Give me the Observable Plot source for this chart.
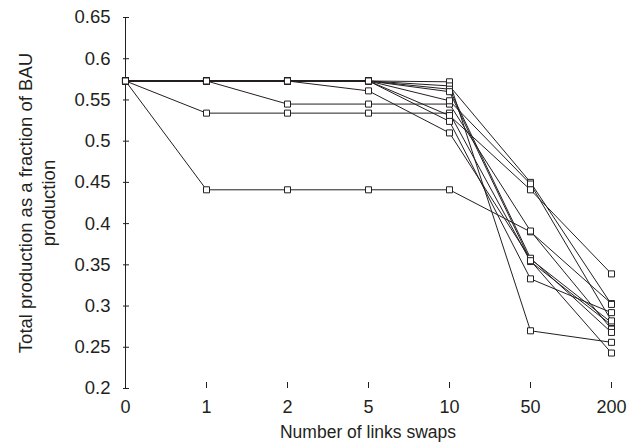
<!DOCTYPE html>
<html>
<head>
<meta charset="utf-8">
<script src="https://cdn.jsdelivr.net/npm/d3@7"></script>
<script src="https://cdn.jsdelivr.net/npm/@observablehq/plot@0.6"></script>
<style>
  html, body { margin: 0; padding: 0; background: #fff; }
  #chart svg { display: block; }
</style>
</head>
<body>
<div id="chart"></div>
<script>
// Categories (number of link swaps)
const swaps = ["0", "1", "2", "5", "10", "50", "200"];
// Y tick values
const yTicks = [0.2, 0.25, 0.3, 0.35, 0.4, 0.45, 0.5, 0.55, 0.6, 0.65];

// Series values (total production as a fraction of BAU production)
const run1  = [0.573, 0.441, 0.441, 0.441, 0.441, 0.390, 0.303];
const run2  = [0.573, 0.534, 0.534, 0.534, 0.534, 0.354, 0.277];
const run3  = [0.573, 0.573, 0.545, 0.545, 0.545, 0.391, 0.272];
const run4  = [0.573, 0.573, 0.573, 0.561, 0.510, 0.357, 0.280];
const run5  = [0.573, 0.573, 0.573, 0.573, 0.572, 0.270, 0.256];
const run6  = [0.573, 0.573, 0.573, 0.573, 0.567, 0.450, 0.302];
const run7  = [0.573, 0.573, 0.573, 0.573, 0.563, 0.358, 0.268];
const run8  = [0.573, 0.573, 0.573, 0.573, 0.560, 0.355, 0.243];
const run9  = [0.573, 0.573, 0.573, 0.573, 0.549, 0.448, 0.282];
const run10 = [0.573, 0.573, 0.573, 0.573, 0.531, 0.441, 0.339];
const run11 = [0.573, 0.573, 0.573, 0.573, 0.524, 0.333, 0.292];

const runs = [run1, run2, run3, run4, run5, run6, run7, run8, run9, run10, run11];
const rows = runs.flatMap((vals, i) => vals.map((v, j) => ({run: i, swaps: swaps[j], value: v})));

const ink = "#231f20";

const chart = Plot.plot({
  width: 627,
  height: 447,
  marginLeft: 123,
  marginRight: 15,
  marginTop: 17,
  marginBottom: 59,
  style: {fontFamily: "'Liberation Sans', Arial, sans-serif", fontSize: "17.5px", color: ink, background: "#fff"},
  x: {type: "point", domain: swaps, padding: 0},
  y: {domain: [0.2, 0.65]},
  marks: [
    Plot.ruleX([swaps[0]], {y1: 0.2, y2: 0.65, stroke: ink, strokeWidth: 1}),
    Plot.ruleY([0.2], {x1: swaps[0], x2: swaps[swaps.length - 1], stroke: ink, strokeWidth: 1}),
    Plot.axisY({ticks: yTicks, tickSize: -6, text: null, stroke: ink, label: null}),
    Plot.axisY({ticks: yTicks, tickSize: 0, tickPadding: 13, tickFormat: d => String(d), label: null, fill: ink, fontSize: 18.5}),
    Plot.axisX({tickSize: -6, text: null, stroke: ink, label: null}),
    Plot.axisX({tickSize: 0, tickPadding: 12, label: null, fill: ink, fontSize: 18}),
    Plot.line(rows, {x: "swaps", y: "value", z: "run", stroke: ink, strokeWidth: 1}),
    Plot.dot(rows, {x: "swaps", y: "value", symbol: "square", r: 3.4, fill: "white", stroke: ink, strokeWidth: 1}),
    Plot.text(["Total production as a fraction of BAU\nproduction"], {frameAnchor: "left", textAnchor: "middle", rotate: -90, dx: -87, lineHeight: 1.25, fill: ink, fontSize: 18.5}),
    Plot.text(["Number of links swaps"], {frameAnchor: "bottom", dy: 49, fill: ink})
  ]
});
document.getElementById("chart").append(chart);
</script>
</body>
</html>
